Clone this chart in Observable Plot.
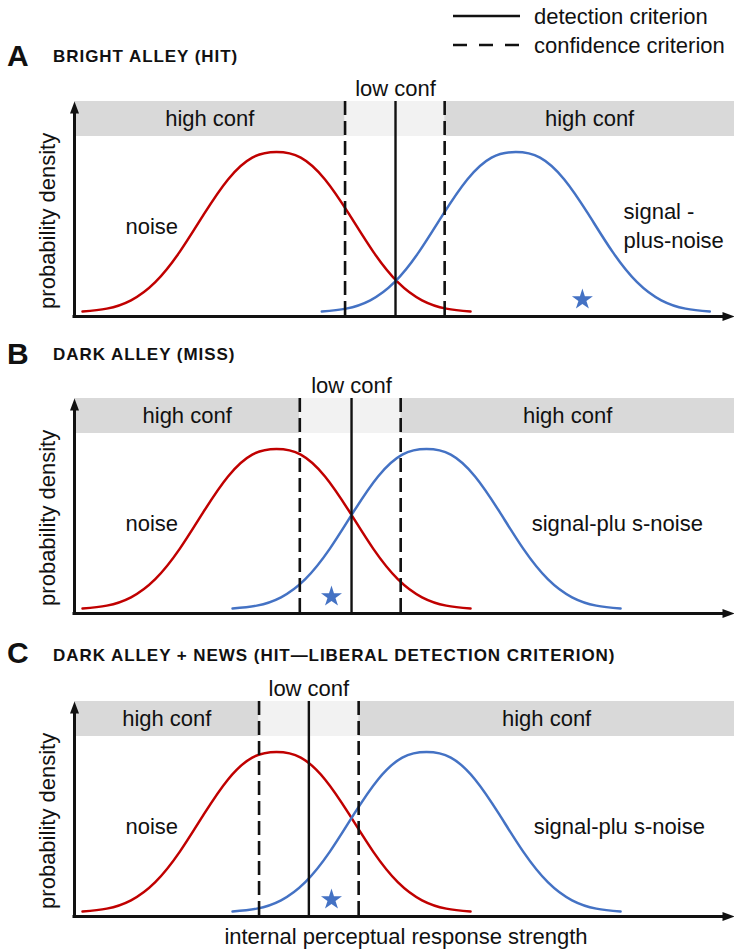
<!DOCTYPE html>
<html>
<head>
<meta charset="utf-8">
<script src="https://cdn.jsdelivr.net/npm/d3@7"></script>
<script src="https://cdn.jsdelivr.net/npm/@observablehq/plot@0.6"></script>
<style>
  body { margin: 0; background: #fff; }
  #fig { position: relative; width: 734px; height: 952px; overflow: hidden;
         font-family: "Liberation Sans", Arial, sans-serif; color: #111; background: #fff; }
  .abs { position: absolute; white-space: pre; line-height: 1; }
  .panel { position: absolute; left: 0; }
</style>
</head>
<body>
<div id="fig"></div>
<script>
// ---------- data ----------
const panelLetters = ["A", "B", "C"];
const panelTitles = [
  "BRIGHT ALLEY (HIT)",
  "DARK ALLEY (MISS)",
  "DARK ALLEY + NEWS (HIT\u2014LIBERAL DETECTION CRITERION)"
];
// response strength in noise-sd units (noise mean = 0)
const noiseMean = [0, 0, 0];
const signalMean = [3.7, 2.32, 2.32];
const confidenceLow = [1.06, 0.36, -0.27];
const detectionCriterion = [1.84, 1.16, 0.5];
const confidenceHigh = [2.6, 1.92, 1.27];
const starResponse = [4.73, 0.85, 0.85];
const starDensity = [0.08, 0.08, 0.08];
// distribution profile (offset from mean, relative density)
const shapeOffset = [-3, -2.625, -2.25, -1.875, -1.5, -1.125, -0.75, -0.375, 0,
                     0.375, 0.75, 1.125, 1.5, 1.875, 2.25, 2.625, 3];
const shapeDensity = [0.006, 0.024, 0.076, 0.189, 0.376, 0.611, 0.829, 0.965, 1,
                      0.965, 0.829, 0.611, 0.376, 0.189, 0.076, 0.024, 0.006];
const noiseLabel = "noise";
const signalLabels = ["signal -\nplus-noise", "signal-plu s-noise", "signal-plu s-noise"];
const highConfLabel = "high conf";
const lowConfLabel = "low conf";
const yAxisLabel = "probability density";
const xAxisLabel = "internal perceptual response strength";
const legendLabels = ["detection criterion", "confidence criterion"];

// ---------- layout ----------
const LAYOUT = {
  panelTop: [74.7, 372.3, 674.7],
  panelHeight: 250,
  xDomain: [-3.124, 7.082],
  xRange: [74, 734],
  yRange: [237, 76.5],
  bandTop: 1.3146, bandBottom: 1.0966,
  axisY: -0.025,
  lowConfY: 1.352, highConfY: 1.159,
  noiseLabelX: -1.93, curveLabelY: 0.492,
  signalLabelX: [5.366, 5.27, 5.30], signalLabelY: [0.403, 0.492, 0.492],
  signalAnchor: ["start", "middle", "middle"],
  yLabelX: -3.42, yLabelY: 0.571,
  letterBaseline: [66.7, 364, 663], titleBaseline: [62, 360, 661.7]
};
const FONT = '"Liberation Sans", Arial, sans-serif';
const RED = "#c00000", BLUE = "#4472c4", INK = "#111";
const DARK_BAND = "#d9d9d9", LIGHT_BAND = "#f2f2f2";

const fig = document.getElementById("fig");

function addText(txt, left, baseline, size, opts = {}) {
  const d = document.createElement("div");
  d.className = "abs";
  d.textContent = txt;
  d.style.fontSize = size + "px";
  d.style.top = (baseline - 0.8465 * size) + "px";
  d.style.left = left + "px";
  if (opts.bold) d.style.fontWeight = "bold";
  if (opts.spacing) d.style.letterSpacing = opts.spacing + "px";
  if (opts.center) d.style.transform = "translateX(-50%)";
  fig.appendChild(d);
  return d;
}

// arrowhead symbol, tip at origin pointing up
const arrowHead = {
  draw(ctx) { ctx.moveTo(0, 0); ctx.lineTo(4.5, 12); ctx.lineTo(-4.5, 12); ctx.closePath(); }
};

function panel(i) {
  const [xMin, xMax] = LAYOUT.xDomain;
  const noise = shapeOffset.map((o, k) => ({x: noiseMean[i] + o, y: shapeDensity[k]}));
  const signal = shapeOffset.map((o, k) => ({x: signalMean[i] + o, y: shapeDensity[k]}));
  const darkBands = [{x1: xMin, x2: confidenceLow[i]}, {x1: confidenceHigh[i], x2: xMax}];
  const lightBand = [{x1: confidenceLow[i], x2: confidenceHigh[i]}];
  const highLabels = [
    {x: (xMin + confidenceLow[i]) / 2, t: highConfLabel},
    {x: (confidenceHigh[i] + xMax) / 2, t: highConfLabel}
  ];
  const yTop = LAYOUT.bandTop;
  const pxY = (LAYOUT.yRange[0] - LAYOUT.yRange[1]);
  const pxX = (LAYOUT.xRange[1] - LAYOUT.xRange[0]) / (xMax - xMin);
  return Plot.plot({
    width: 734,
    height: LAYOUT.panelHeight,
    margin: 0,
    x: {domain: LAYOUT.xDomain, range: LAYOUT.xRange, axis: null},
    y: {domain: [0, 1], range: LAYOUT.yRange, axis: null},
    style: {fontFamily: FONT, fontSize: "22px", background: "transparent", color: INK},
    marks: [
      Plot.rect(darkBands, {x1: "x1", x2: "x2", y1: () => LAYOUT.bandBottom, y2: () => yTop, fill: DARK_BAND}),
      Plot.rect(lightBand, {x1: "x1", x2: "x2", y1: () => LAYOUT.bandBottom, y2: () => yTop, fill: LIGHT_BAND}),
      Plot.line(noise, {x: "x", y: "y", stroke: RED, strokeWidth: 2.5, curve: "natural"}),
      Plot.line(signal, {x: "x", y: "y", stroke: BLUE, strokeWidth: 2.5, curve: "natural"}),
      // criteria
      Plot.ruleX([confidenceLow[i], confidenceHigh[i]], {y1: () => yTop, y2: () => LAYOUT.axisY,
        stroke: INK, strokeWidth: 2.6, strokeDasharray: "14,6"}),
      Plot.ruleX([detectionCriterion[i]], {y1: () => yTop, y2: () => LAYOUT.axisY, stroke: INK, strokeWidth: 2.4}),
      // axes
      Plot.ruleY([LAYOUT.axisY], {x1: () => xMin - 1.5 / pxX, x2: () => xMax - 6 / pxX, stroke: INK, strokeWidth: 3}),
      Plot.ruleX([xMin], {y1: () => LAYOUT.axisY - 1.5 / pxY, y2: () => yTop - 6 / pxY, stroke: INK, strokeWidth: 3}),
      Plot.dot([[xMin, yTop]], {x: d => d[0], y: d => d[1], symbol: arrowHead, r: 5, fill: INK, stroke: "none"}),
      Plot.dot([[xMax, LAYOUT.axisY]], {x: d => d[0], y: d => d[1], symbol: arrowHead, r: 5, rotate: 90, fill: INK, stroke: "none"}),
      // star
      Plot.dot([{x: starResponse[i], y: starDensity[i]}], {x: "x", y: "y", symbol: "star", r: 6.6, fill: BLUE, stroke: "none"}),
      // texts
      Plot.text([lowConfLabel], {x: () => detectionCriterion[i], y: () => LAYOUT.lowConfY, text: d => d,
        lineAnchor: "bottom", fontSize: 22, fill: INK}),
      Plot.text(highLabels, {x: "x", y: () => LAYOUT.highConfY, text: "t", lineAnchor: "bottom", fontSize: 22, fill: INK}),
      Plot.text([noiseLabel], {x: () => noiseMean[i] + LAYOUT.noiseLabelX, y: () => LAYOUT.curveLabelY, text: d => d,
        lineAnchor: "bottom", fontSize: 22, fill: INK}),
      Plot.text([signalLabels[i]], {x: () => LAYOUT.signalLabelX[i], y: () => LAYOUT.signalLabelY[i], text: d => d,
        lineAnchor: "bottom", textAnchor: LAYOUT.signalAnchor[i], lineHeight: 1.32, fontSize: 22, fill: INK}),
      Plot.text([yAxisLabel], {x: () => LAYOUT.yLabelX, y: () => LAYOUT.yLabelY, text: d => d,
        rotate: -90, lineAnchor: "bottom", textAnchor: "middle", fontSize: 22, fill: INK})
    ]
  });
}

// legend
function legend() {
  const rows = [{y: 16, dash: null, base: 25}, {y: 45, dash: "14,12", base: 53.5}];
  rows.forEach((r, k) => {
    const svg = d3.create("svg").attr("width", 70).attr("height", 8)
      .style("position", "absolute").style("left", "452px").style("top", (r.y - 4) + "px");
    svg.append("line").attr("x1", 1).attr("x2", 68).attr("y1", 4).attr("y2", 4)
      .attr("stroke", INK).attr("stroke-width", 2.6).attr("stroke-dasharray", r.dash);
    fig.appendChild(svg.node());
    addText(legendLabels[k], 534, r.base, 22);
  });
}

panelLetters.forEach((L, i) => {
  addText(L, 7, LAYOUT.letterBaseline[i], 30, {bold: true});
  addText(panelTitles[i], 53, LAYOUT.titleBaseline[i], 17, {bold: true, spacing: 0.95});
  const node = panel(i);
  const wrap = document.createElement("div");
  wrap.className = "panel";
  wrap.style.top = LAYOUT.panelTop[i] + "px";
  wrap.appendChild(node);
  fig.appendChild(wrap);
});
legend();
addText(xAxisLabel, 406, 945, 22, {center: true});
</script>
</body>
</html>
